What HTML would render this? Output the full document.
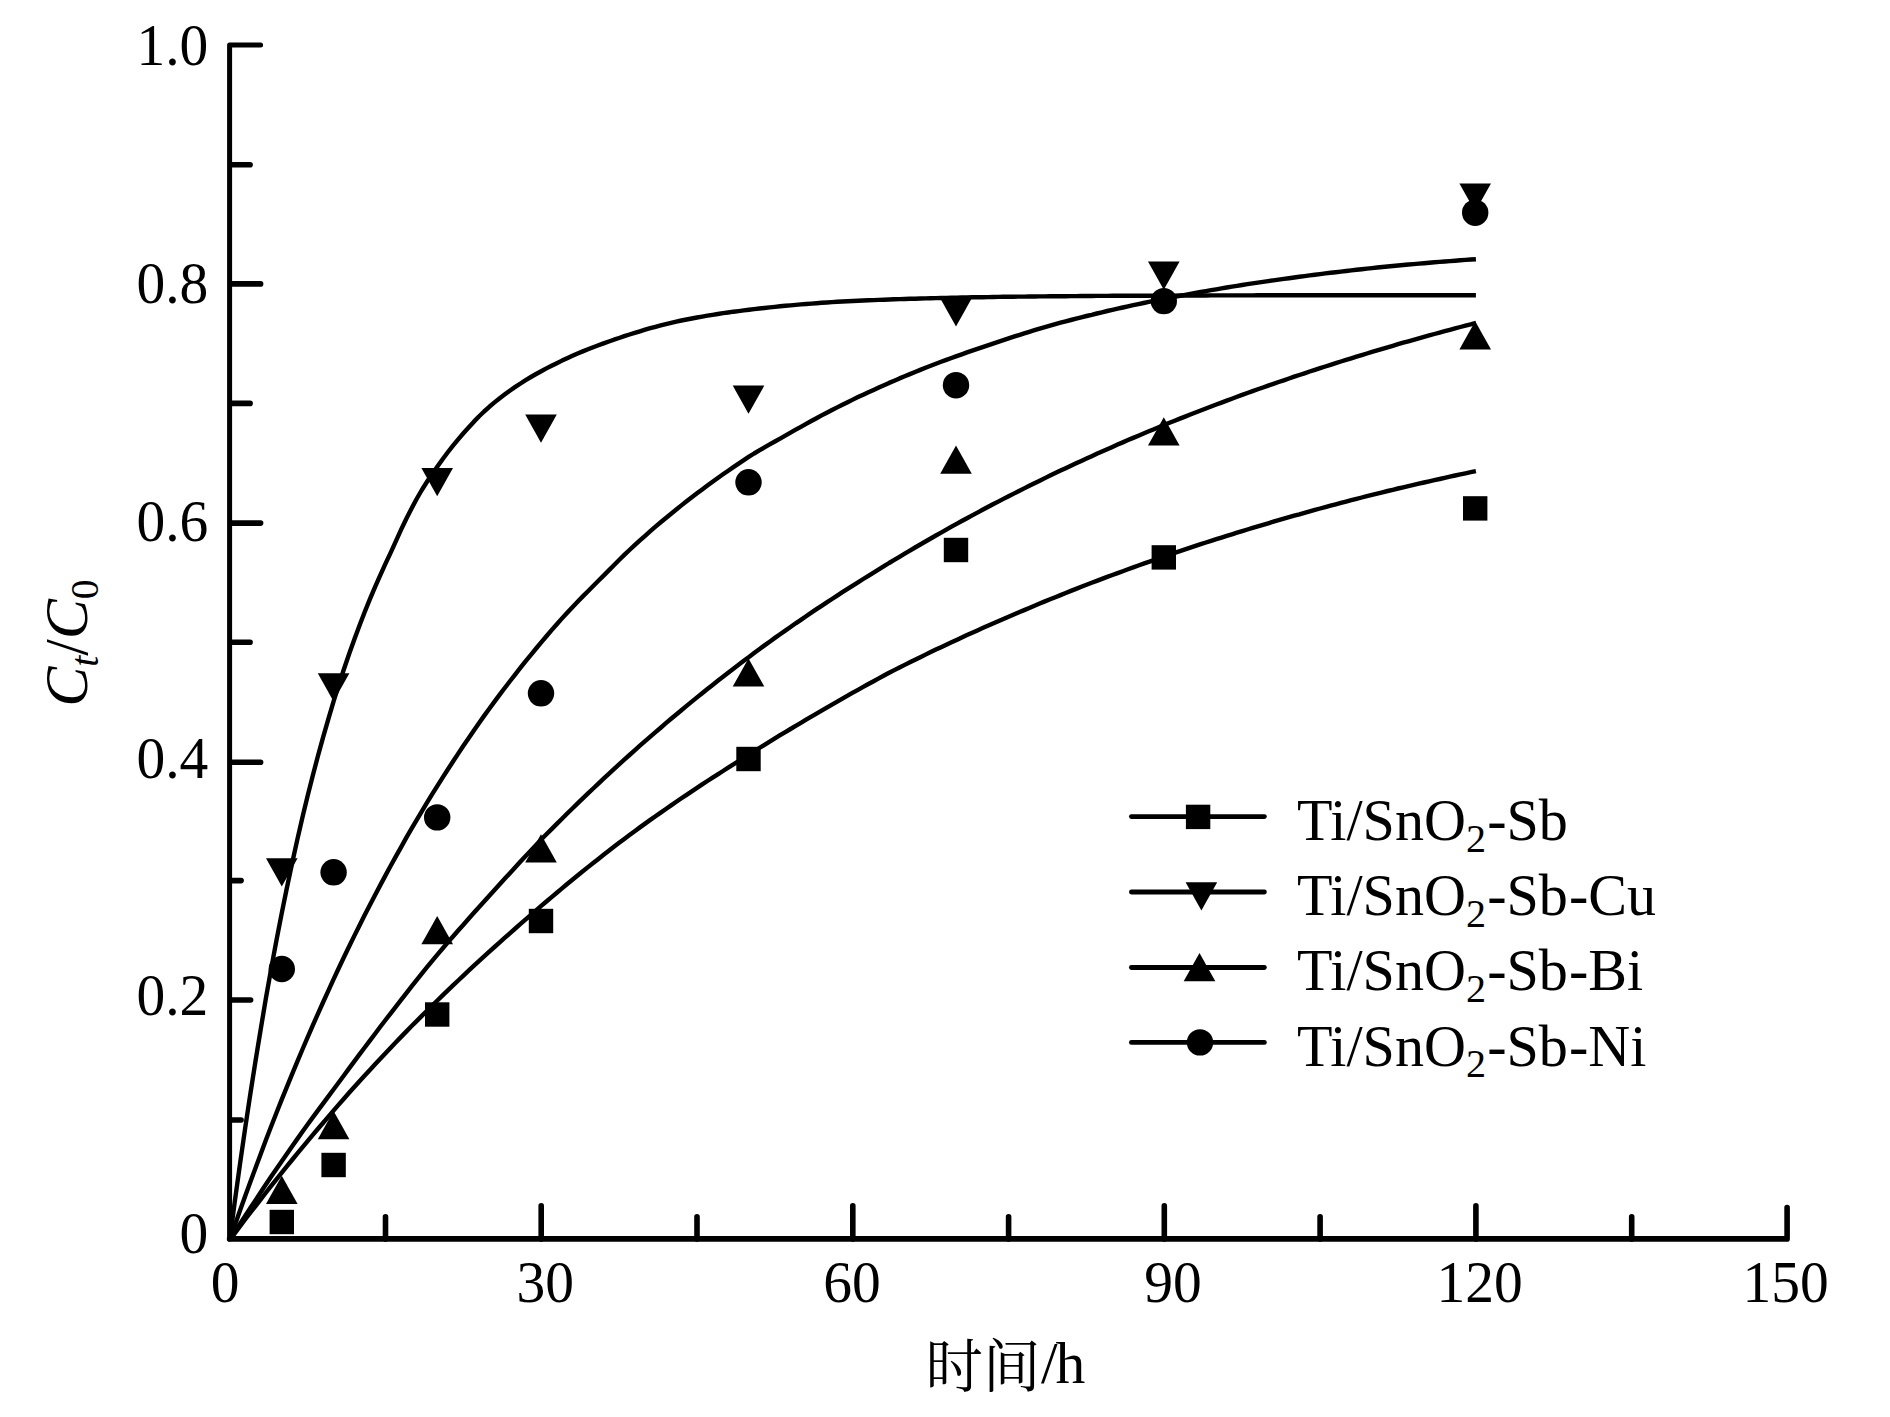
<!DOCTYPE html>
<html lang="zh"><head><meta charset="utf-8"><title>Ct/C0 - 时间/h</title>
<style>html,body{margin:0;padding:0;background:#fff;}svg{display:block;}text{font-family:"Liberation Serif","Noto Serif CJK SC",serif;fill:#000;}</style></head><body>
<svg width="1890" height="1417" viewBox="0 0 1890 1417">
<rect width="1890" height="1417" fill="#fff"/>
<g stroke="#000" fill="none" stroke-linecap="round" stroke-linejoin="round">
<path d="M260.6 45.1H229.6V1238.9" stroke-width="5"/>
<path d="M229.6 1238.9H1787.1V1207.5" stroke-width="5.6"/>
<path d="M230.6 1120.0h10.5 M230.6 1000.0h20 M230.6 880.6h10.5 M230.6 762.2h30 M230.6 642.2h19.5 M230.6 523.1h30 M230.6 403.4h19.5 M230.6 283.9h30 M230.6 164.8h19.5" stroke-width="5.6"/>
<path d="M385.5 1238.9v-22 M541.2 1238.9v-33 M697.0 1238.9v-22 M852.8 1238.9v-33 M1008.6 1238.9v-22 M1164.3 1238.9v-33 M1320.1 1238.9v-22 M1475.9 1238.9v-33 M1631.7 1238.9v-22" stroke-width="5.6"/>
</g>
<g stroke="#000" fill="none" stroke-width="4.4" stroke-linejoin="round">
<path d="M229.7 1240.0 L234.9 1200.8 L240.1 1163.3 L245.3 1127.3 L250.5 1092.8 L255.7 1059.8 L260.9 1028.1 L266.0 997.7 L271.2 968.6 L276.4 940.7 L281.6 913.9 L286.8 888.3 L292.0 863.7 L297.2 840.1 L302.4 817.6 L307.6 796.1 L312.8 775.5 L318.0 755.7 L323.2 736.9 L328.4 718.8 L333.5 701.6 L338.7 685.0 L343.9 669.2 L349.1 654.0 L354.3 639.4 L359.5 625.4 L364.7 612.0 L369.9 599.2 L375.1 586.9 L380.3 575.1 L385.5 563.7 L390.7 552.6 L395.9 541.1 L401.1 529.7 L406.2 519.0 L411.4 508.8 L416.6 499.0 L421.8 490.0 L427.0 481.8 L432.2 474.0 L437.4 466.5 L442.6 459.2 L447.8 452.3 L453.0 445.7 L458.2 439.4 L463.4 433.3 L468.6 427.5 L473.7 421.9 L478.9 416.5 L484.1 411.5 L489.3 406.8 L494.5 402.4 L499.7 398.2 L504.9 394.3 L510.1 390.5 L515.3 386.9 L520.5 383.5 L525.7 380.1 L530.9 377.0 L536.1 374.0 L541.2 371.2 L546.4 368.4 L551.6 365.8 L556.8 363.2 L562.0 360.6 L567.2 358.2 L572.4 355.8 L577.6 353.5 L582.8 351.4 L588.0 349.3 L593.2 347.2 L598.4 345.3 L603.6 343.4 L608.8 341.5 L613.9 339.7 L619.1 338.0 L624.3 336.2 L629.5 334.5 L634.7 332.9 L639.9 331.3 L645.1 329.7 L650.3 328.2 L655.5 326.8 L660.7 325.4 L665.9 324.1 L671.1 322.8 L676.3 321.6 L681.4 320.5 L686.6 319.5 L691.8 318.5 L697.0 317.5 L702.2 316.6 L707.4 315.7 L712.6 314.8 L717.8 314.0 L723.0 313.2 L728.2 312.5 L733.4 311.7 L738.6 311.1 L743.8 310.4 L749.0 309.7 L754.1 309.1 L759.3 308.5 L764.5 308.0 L769.7 307.4 L774.9 306.9 L780.1 306.3 L785.3 305.8 L790.5 305.4 L795.7 304.9 L800.9 304.4 L806.1 304.0 L811.3 303.6 L816.5 303.2 L821.6 302.8 L826.8 302.5 L832.0 302.1 L837.2 301.8 L842.4 301.5 L847.6 301.3 L852.8 301.0 L858.0 300.8 L863.2 300.5 L868.4 300.3 L873.6 300.1 L878.8 299.9 L884.0 299.7 L889.1 299.5 L894.3 299.3 L899.5 299.1 L904.7 299.0 L909.9 298.8 L915.1 298.7 L920.3 298.5 L925.5 298.4 L930.7 298.2 L935.9 298.1 L941.1 298.0 L946.3 297.9 L951.5 297.8 L956.6 297.6 L961.8 297.5 L967.0 297.4 L972.2 297.3 L977.4 297.3 L982.6 297.2 L987.8 297.1 L993.0 297.0 L998.2 296.9 L1003.4 296.8 L1008.6 296.8 L1013.8 296.7 L1019.0 296.6 L1024.2 296.6 L1029.3 296.5 L1034.5 296.5 L1039.7 296.4 L1044.9 296.4 L1050.1 296.3 L1055.3 296.3 L1060.5 296.2 L1065.7 296.2 L1070.9 296.1 L1076.1 296.1 L1081.3 296.0 L1086.5 296.0 L1091.7 296.0 L1096.8 295.9 L1102.0 295.9 L1107.2 295.9 L1112.4 295.8 L1117.6 295.8 L1122.8 295.8 L1128.0 295.7 L1133.2 295.7 L1138.4 295.7 L1143.6 295.7 L1148.8 295.7 L1154.0 295.6 L1159.2 295.6 L1164.3 295.6 L1169.5 295.6 L1174.7 295.6 L1179.9 295.5 L1185.1 295.5 L1190.3 295.5 L1195.5 295.5 L1200.7 295.5 L1205.9 295.5 L1211.1 295.4 L1216.3 295.4 L1221.5 295.4 L1226.7 295.4 L1231.9 295.4 L1237.0 295.4 L1242.2 295.4 L1247.4 295.4 L1252.6 295.4 L1257.8 295.3 L1263.0 295.3 L1268.2 295.3 L1273.4 295.3 L1278.6 295.3 L1283.8 295.3 L1289.0 295.3 L1294.2 295.3 L1299.4 295.3 L1304.5 295.3 L1309.7 295.3 L1314.9 295.3 L1320.1 295.3 L1325.3 295.3 L1330.5 295.2 L1335.7 295.2 L1340.9 295.2 L1346.1 295.2 L1351.3 295.2 L1356.5 295.2 L1361.7 295.2 L1366.9 295.2 L1372.0 295.2 L1377.2 295.2 L1382.4 295.2 L1387.6 295.2 L1392.8 295.2 L1398.0 295.2 L1403.2 295.2 L1408.4 295.2 L1413.6 295.2 L1418.8 295.2 L1424.0 295.2 L1429.2 295.2 L1434.4 295.2 L1439.6 295.2 L1444.7 295.2 L1449.9 295.2 L1455.1 295.2 L1460.3 295.2 L1465.5 295.2 L1470.7 295.2 L1475.9 295.2"/>
<path d="M229.7 1240.0 L234.9 1225.0 L240.1 1210.3 L245.3 1195.8 L250.5 1181.5 L255.7 1167.4 L260.9 1153.5 L266.0 1139.8 L271.2 1126.3 L276.4 1113.0 L281.6 1099.9 L286.8 1087.1 L292.0 1074.4 L297.2 1061.8 L302.4 1049.5 L307.6 1037.4 L312.8 1025.4 L318.0 1013.6 L323.2 1002.0 L328.4 990.6 L333.5 979.3 L338.7 968.2 L343.9 957.3 L349.1 946.5 L354.3 935.9 L359.5 925.4 L364.7 915.1 L369.9 904.9 L375.1 894.9 L380.3 885.1 L385.5 875.4 L390.7 865.8 L395.9 856.4 L401.1 847.1 L406.2 837.9 L411.4 828.9 L416.6 820.1 L421.8 811.3 L427.0 802.7 L432.2 794.2 L437.4 785.8 L442.6 777.6 L447.8 769.5 L453.0 761.5 L458.2 753.6 L463.4 745.8 L468.6 738.2 L473.7 730.7 L478.9 723.2 L484.1 715.9 L489.3 708.7 L494.5 701.6 L499.7 694.6 L504.9 687.7 L510.1 681.0 L515.3 674.3 L520.5 667.7 L525.7 661.2 L530.9 654.8 L536.1 648.5 L541.2 642.3 L546.4 636.2 L551.6 630.1 L556.8 624.2 L562.0 618.4 L567.2 612.7 L572.4 607.2 L577.6 601.7 L582.8 596.4 L588.0 591.2 L593.2 586.0 L598.4 580.8 L603.6 575.6 L608.8 570.4 L613.9 565.2 L619.1 560.0 L624.3 554.9 L629.5 550.0 L634.7 545.1 L639.9 540.4 L645.1 535.8 L650.3 531.2 L655.5 526.7 L660.7 522.3 L665.9 518.0 L671.1 513.7 L676.3 509.5 L681.4 505.4 L686.6 501.3 L691.8 497.3 L697.0 493.3 L702.2 489.4 L707.4 485.5 L712.6 481.7 L717.8 478.0 L723.0 474.3 L728.2 470.7 L733.4 467.1 L738.6 463.6 L743.8 460.1 L749.0 456.7 L754.1 453.5 L759.3 450.4 L764.5 447.4 L769.7 444.4 L774.9 441.5 L780.1 438.6 L785.3 435.7 L790.5 432.7 L795.7 429.7 L800.9 426.8 L806.1 423.9 L811.3 421.0 L816.5 418.2 L821.6 415.4 L826.8 412.7 L832.0 410.0 L837.2 407.4 L842.4 404.8 L847.6 402.2 L852.8 399.6 L858.0 397.1 L863.2 394.7 L868.4 392.3 L873.6 389.9 L878.8 387.5 L884.0 385.2 L889.1 382.9 L894.3 380.7 L899.5 378.4 L904.7 376.3 L909.9 374.1 L915.1 372.0 L920.3 369.9 L925.5 367.8 L930.7 365.8 L935.9 363.8 L941.1 361.8 L946.3 359.9 L951.5 358.0 L956.6 356.1 L961.8 354.3 L967.0 352.4 L972.2 350.6 L977.4 348.9 L982.6 347.1 L987.8 345.4 L993.0 343.6 L998.2 341.9 L1003.4 340.2 L1008.6 338.4 L1013.8 336.7 L1019.0 335.1 L1024.2 333.4 L1029.3 331.8 L1034.5 330.2 L1039.7 328.6 L1044.9 327.1 L1050.1 325.6 L1055.3 324.1 L1060.5 322.7 L1065.7 321.3 L1070.9 320.0 L1076.1 318.6 L1081.3 317.3 L1086.5 316.0 L1091.7 314.8 L1096.8 313.5 L1102.0 312.3 L1107.2 311.0 L1112.4 309.8 L1117.6 308.7 L1122.8 307.5 L1128.0 306.3 L1133.2 305.2 L1138.4 304.1 L1143.6 303.0 L1148.8 301.9 L1154.0 300.9 L1159.2 299.8 L1164.3 298.8 L1169.5 297.8 L1174.7 296.8 L1179.9 295.8 L1185.1 294.8 L1190.3 293.8 L1195.5 292.9 L1200.7 292.0 L1205.9 291.1 L1211.1 290.2 L1216.3 289.3 L1221.5 288.4 L1226.7 287.5 L1231.9 286.7 L1237.0 285.8 L1242.2 285.0 L1247.4 284.2 L1252.6 283.4 L1257.8 282.6 L1263.0 281.9 L1268.2 281.1 L1273.4 280.3 L1278.6 279.6 L1283.8 278.9 L1289.0 278.2 L1294.2 277.5 L1299.4 276.8 L1304.5 276.1 L1309.7 275.4 L1314.9 274.7 L1320.1 274.1 L1325.3 273.4 L1330.5 272.8 L1335.7 272.2 L1340.9 271.6 L1346.1 271.0 L1351.3 270.4 L1356.5 269.8 L1361.7 269.2 L1366.9 268.6 L1372.0 268.1 L1377.2 267.5 L1382.4 267.0 L1387.6 266.5 L1392.8 266.0 L1398.0 265.5 L1403.2 265.0 L1408.4 264.5 L1413.6 264.1 L1418.8 263.6 L1424.0 263.2 L1429.2 262.7 L1434.4 262.3 L1439.6 261.9 L1444.7 261.5 L1449.9 261.1 L1455.1 260.7 L1460.3 260.3 L1465.5 259.9 L1470.7 259.5 L1475.9 259.2"/>
<path d="M229.7 1240.0 L234.9 1231.8 L240.1 1223.7 L245.3 1215.7 L250.5 1207.7 L255.7 1199.9 L260.9 1192.0 L266.0 1184.3 L271.2 1176.6 L276.4 1168.9 L281.6 1161.4 L286.8 1153.9 L292.0 1146.4 L297.2 1139.1 L302.4 1131.7 L307.6 1124.5 L312.8 1117.4 L318.0 1110.4 L323.2 1103.4 L328.4 1096.4 L333.5 1089.5 L338.7 1082.5 L343.9 1075.5 L349.1 1068.4 L354.3 1061.4 L359.5 1054.4 L364.7 1047.5 L369.9 1040.6 L375.1 1033.7 L380.3 1026.8 L385.5 1020.0 L390.7 1013.3 L395.9 1006.6 L401.1 999.9 L406.2 993.3 L411.4 986.7 L416.6 980.2 L421.8 973.6 L427.0 967.2 L432.2 960.8 L437.4 954.6 L442.6 948.5 L447.8 942.4 L453.0 936.5 L458.2 930.5 L463.4 924.7 L468.6 918.8 L473.7 913.0 L478.9 907.3 L484.1 901.6 L489.3 895.8 L494.5 890.1 L499.7 884.3 L504.9 878.6 L510.1 872.9 L515.3 867.2 L520.5 861.5 L525.7 855.9 L530.9 850.4 L536.1 845.0 L541.2 839.6 L546.4 834.3 L551.6 829.1 L556.8 823.9 L562.0 818.7 L567.2 813.5 L572.4 808.5 L577.6 803.4 L582.8 798.4 L588.0 793.4 L593.2 788.5 L598.4 783.6 L603.6 778.7 L608.8 773.9 L613.9 769.1 L619.1 764.3 L624.3 759.6 L629.5 755.0 L634.7 750.3 L639.9 745.7 L645.1 741.1 L650.3 736.6 L655.5 732.1 L660.7 727.7 L665.9 723.2 L671.1 718.8 L676.3 714.5 L681.4 710.2 L686.6 705.9 L691.8 701.6 L697.0 697.4 L702.2 693.2 L707.4 689.0 L712.6 684.9 L717.8 680.8 L723.0 676.8 L728.2 672.7 L733.4 668.7 L738.6 664.8 L743.8 660.8 L749.0 656.9 L754.1 653.1 L759.3 649.2 L764.5 645.4 L769.7 641.7 L774.9 637.9 L780.1 634.2 L785.3 630.6 L790.5 627.0 L795.7 623.3 L800.9 619.8 L806.1 616.2 L811.3 612.7 L816.5 609.2 L821.6 605.8 L826.8 602.4 L832.0 599.0 L837.2 595.6 L842.4 592.2 L847.6 588.9 L852.8 585.6 L858.0 582.3 L863.2 579.0 L868.4 575.8 L873.6 572.6 L878.8 569.4 L884.0 566.2 L889.1 563.0 L894.3 559.9 L899.5 556.8 L904.7 553.7 L909.9 550.6 L915.1 547.5 L920.3 544.5 L925.5 541.5 L930.7 538.5 L935.9 535.5 L941.1 532.6 L946.3 529.6 L951.5 526.7 L956.6 523.9 L961.8 521.0 L967.0 518.2 L972.2 515.4 L977.4 512.6 L982.6 509.8 L987.8 507.0 L993.0 504.3 L998.2 501.6 L1003.4 498.9 L1008.6 496.2 L1013.8 493.6 L1019.0 491.0 L1024.2 488.4 L1029.3 485.8 L1034.5 483.2 L1039.7 480.7 L1044.9 478.1 L1050.1 475.6 L1055.3 473.1 L1060.5 470.6 L1065.7 468.2 L1070.9 465.8 L1076.1 463.3 L1081.3 460.9 L1086.5 458.6 L1091.7 456.2 L1096.8 453.8 L1102.0 451.5 L1107.2 449.2 L1112.4 446.9 L1117.6 444.6 L1122.8 442.4 L1128.0 440.1 L1133.2 437.9 L1138.4 435.7 L1143.6 433.5 L1148.8 431.3 L1154.0 429.2 L1159.2 427.0 L1164.3 424.9 L1169.5 422.8 L1174.7 420.7 L1179.9 418.6 L1185.1 416.6 L1190.3 414.5 L1195.5 412.5 L1200.7 410.5 L1205.9 408.5 L1211.1 406.5 L1216.3 404.5 L1221.5 402.6 L1226.7 400.6 L1231.9 398.7 L1237.0 396.8 L1242.2 394.9 L1247.4 393.0 L1252.6 391.2 L1257.8 389.3 L1263.0 387.5 L1268.2 385.6 L1273.4 383.8 L1278.6 382.0 L1283.8 380.3 L1289.0 378.5 L1294.2 376.7 L1299.4 375.0 L1304.5 373.3 L1309.7 371.5 L1314.9 369.8 L1320.1 368.1 L1325.3 366.5 L1330.5 364.8 L1335.7 363.1 L1340.9 361.5 L1346.1 359.9 L1351.3 358.3 L1356.5 356.7 L1361.7 355.1 L1366.9 353.5 L1372.0 351.9 L1377.2 350.4 L1382.4 348.8 L1387.6 347.3 L1392.8 345.8 L1398.0 344.2 L1403.2 342.7 L1408.4 341.3 L1413.6 339.8 L1418.8 338.3 L1424.0 336.9 L1429.2 335.4 L1434.4 334.0 L1439.6 332.6 L1444.7 331.2 L1449.9 329.8 L1455.1 328.4 L1460.3 327.0 L1465.5 325.6 L1470.7 324.3 L1475.9 322.9"/>
<path d="M229.7 1240.0 L234.9 1233.1 L240.1 1226.2 L245.3 1219.3 L250.5 1212.5 L255.7 1205.8 L260.9 1199.1 L266.0 1192.5 L271.2 1185.9 L276.4 1179.3 L281.6 1172.8 L286.8 1166.4 L292.0 1160.0 L297.2 1153.7 L302.4 1147.4 L307.6 1141.1 L312.8 1134.9 L318.0 1128.8 L323.2 1122.7 L328.4 1116.6 L333.5 1110.6 L338.7 1104.6 L343.9 1098.7 L349.1 1092.8 L354.3 1087.0 L359.5 1081.2 L364.7 1075.5 L369.9 1069.9 L375.1 1064.3 L380.3 1058.7 L385.5 1053.2 L390.7 1047.7 L395.9 1042.3 L401.1 1036.9 L406.2 1031.6 L411.4 1026.3 L416.6 1021.1 L421.8 1015.9 L427.0 1010.7 L432.2 1005.6 L437.4 1000.5 L442.6 995.4 L447.8 990.4 L453.0 985.4 L458.2 980.5 L463.4 975.6 L468.6 970.7 L473.7 965.9 L478.9 961.1 L484.1 956.4 L489.3 951.6 L494.5 947.0 L499.7 942.3 L504.9 937.7 L510.1 933.1 L515.3 928.5 L520.5 923.9 L525.7 919.4 L530.9 914.9 L536.1 910.4 L541.2 905.9 L546.4 901.5 L551.6 897.1 L556.8 892.7 L562.0 888.4 L567.2 884.0 L572.4 879.8 L577.6 875.5 L582.8 871.3 L588.0 867.1 L593.2 863.0 L598.4 858.9 L603.6 854.8 L608.8 850.8 L613.9 846.8 L619.1 842.8 L624.3 838.9 L629.5 835.0 L634.7 831.2 L639.9 827.4 L645.1 823.6 L650.3 819.9 L655.5 816.2 L660.7 812.6 L665.9 809.0 L671.1 805.4 L676.3 801.8 L681.4 798.3 L686.6 794.8 L691.8 791.3 L697.0 787.9 L702.2 784.4 L707.4 781.0 L712.6 777.6 L717.8 774.3 L723.0 771.0 L728.2 767.7 L733.4 764.4 L738.6 761.1 L743.8 757.8 L749.0 754.5 L754.1 751.3 L759.3 748.0 L764.5 744.8 L769.7 741.6 L774.9 738.4 L780.1 735.2 L785.3 732.1 L790.5 729.0 L795.7 725.8 L800.9 722.8 L806.1 719.7 L811.3 716.6 L816.5 713.6 L821.6 710.6 L826.8 707.6 L832.0 704.6 L837.2 701.7 L842.4 698.7 L847.6 695.7 L852.8 692.7 L858.0 689.8 L863.2 686.9 L868.4 684.0 L873.6 681.2 L878.8 678.3 L884.0 675.5 L889.1 672.8 L894.3 670.1 L899.5 667.5 L904.7 664.9 L909.9 662.3 L915.1 659.7 L920.3 657.2 L925.5 654.6 L930.7 652.1 L935.9 649.6 L941.1 647.2 L946.3 644.7 L951.5 642.3 L956.6 639.9 L961.8 637.5 L967.0 635.1 L972.2 632.7 L977.4 630.4 L982.6 628.1 L987.8 625.8 L993.0 623.5 L998.2 621.2 L1003.4 618.9 L1008.6 616.7 L1013.8 614.5 L1019.0 612.3 L1024.2 610.1 L1029.3 607.9 L1034.5 605.7 L1039.7 603.5 L1044.9 601.4 L1050.1 599.3 L1055.3 597.2 L1060.5 595.1 L1065.7 593.0 L1070.9 590.9 L1076.1 588.9 L1081.3 586.8 L1086.5 584.8 L1091.7 582.8 L1096.8 580.9 L1102.0 578.9 L1107.2 576.9 L1112.4 575.0 L1117.6 573.1 L1122.8 571.2 L1128.0 569.3 L1133.2 567.4 L1138.4 565.5 L1143.6 563.7 L1148.8 561.9 L1154.0 560.0 L1159.2 558.2 L1164.3 556.4 L1169.5 554.6 L1174.7 552.9 L1179.9 551.1 L1185.1 549.4 L1190.3 547.7 L1195.5 545.9 L1200.7 544.2 L1205.9 542.5 L1211.1 540.9 L1216.3 539.2 L1221.5 537.6 L1226.7 535.9 L1231.9 534.3 L1237.0 532.7 L1242.2 531.1 L1247.4 529.5 L1252.6 527.9 L1257.8 526.4 L1263.0 524.8 L1268.2 523.3 L1273.4 521.7 L1278.6 520.2 L1283.8 518.7 L1289.0 517.2 L1294.2 515.7 L1299.4 514.3 L1304.5 512.8 L1309.7 511.4 L1314.9 509.9 L1320.1 508.5 L1325.3 507.1 L1330.5 505.7 L1335.7 504.3 L1340.9 502.9 L1346.1 501.6 L1351.3 500.2 L1356.5 498.9 L1361.7 497.5 L1366.9 496.2 L1372.0 494.9 L1377.2 493.6 L1382.4 492.3 L1387.6 491.0 L1392.8 489.8 L1398.0 488.5 L1403.2 487.3 L1408.4 486.1 L1413.6 484.9 L1418.8 483.7 L1424.0 482.5 L1429.2 481.3 L1434.4 480.1 L1439.6 479.0 L1444.7 477.8 L1449.9 476.7 L1455.1 475.5 L1460.3 474.4 L1465.5 473.3 L1470.7 472.2 L1475.9 471.1"/>
</g>
<g fill="#000" stroke="none">
<rect x="269.6" y="1209.8" width="24.4" height="24.4"/>
<path d="M266.0 858.3h31.6l-15.8 28.2z"/>
<path d="M281.8 1175.8l15.8 28.2h-31.6z"/>
<circle cx="281.8" cy="969.0" r="13.2"/>
<rect x="321.4" y="1152.8" width="24.4" height="24.4"/>
<path d="M317.8 673.2h31.6l-15.8 28.2z"/>
<path d="M333.6 1111.0l15.8 28.2h-31.6z"/>
<circle cx="333.6" cy="872.3" r="13.2"/>
<rect x="425.0" y="1002.3" width="24.4" height="24.4"/>
<path d="M421.4 468.0h31.6l-15.8 28.2z"/>
<path d="M437.2 916.0l15.8 28.2h-31.6z"/>
<circle cx="437.2" cy="817.4" r="13.2"/>
<rect x="528.8" y="908.8" width="24.4" height="24.4"/>
<path d="M525.2 414.5h31.6l-15.8 28.2z"/>
<path d="M541.0 834.3l15.8 28.2h-31.6z"/>
<circle cx="541.0" cy="693.3" r="13.2"/>
<rect x="736.3" y="746.8" width="24.4" height="24.4"/>
<path d="M732.7 385.6h31.6l-15.8 28.2z"/>
<path d="M748.5 658.4l15.8 28.2h-31.6z"/>
<circle cx="748.5" cy="482.3" r="13.2"/>
<rect x="943.8" y="537.8" width="24.4" height="24.4"/>
<path d="M940.2 298.2h31.6l-15.8 28.2z"/>
<path d="M956.0 445.6l15.8 28.2h-31.6z"/>
<circle cx="956.0" cy="385.2" r="13.2"/>
<rect x="1151.6" y="545.2" width="24.4" height="24.4"/>
<path d="M1148.0 261.6h31.6l-15.8 28.2z"/>
<path d="M1163.8 417.2l15.8 28.2h-31.6z"/>
<circle cx="1163.8" cy="301.1" r="13.2"/>
<rect x="1463.0" y="496.2" width="24.4" height="24.4"/>
<path d="M1459.4 183.4h31.6l-15.8 28.2z"/>
<path d="M1475.2 321.2l15.8 28.2h-31.6z"/>
<circle cx="1475.2" cy="212.7" r="13.2"/>
</g>
<g stroke="#000" stroke-width="4.8" stroke-linecap="round">
<path d="M1131.4 816.6H1264.4"/>
<path d="M1131.4 892.0H1264.4"/>
<path d="M1131.4 967.5H1264.4"/>
<path d="M1131.4 1042.4H1264.4"/>
</g><g fill="#000">
<rect x="1185.9" y="804.7" width="24.4" height="24.4"/>
<path d="M1185.6 882.2h31.6l-15.8 28.2z"/>
<path d="M1199.5 953.1l15.8 28.2h-31.6z"/>
<circle cx="1200.0" cy="1042.4" r="13.2"/>
</g>
<text transform="translate(1296.9 839.9) scale(0.975 1)" font-size="59.6">Ti/SnO<tspan font-size="41.1" dy="11.8">2</tspan><tspan dy="-11.8" dx="1.2">-Sb</tspan></text>
<text transform="translate(1296.9 915.1) scale(0.975 1)" font-size="59.6">Ti/SnO<tspan font-size="41.1" dy="11.8">2</tspan><tspan dy="-11.8" dx="1.2">-Sb</tspan><tspan dx="1.2">-Cu</tspan></text>
<text transform="translate(1296.9 990.3) scale(0.975 1)" font-size="59.6">Ti/SnO<tspan font-size="41.1" dy="11.8">2</tspan><tspan dy="-11.8" dx="1.2">-Sb</tspan><tspan dx="1.2">-Bi</tspan></text>
<text transform="translate(1296.9 1065.5) scale(0.975 1)" font-size="59.6">Ti/SnO<tspan font-size="41.1" dy="11.8">2</tspan><tspan dy="-11.8" dx="1.2">-Sb</tspan><tspan dx="1.2">-Ni</tspan></text>
<text transform="translate(208.3 65.3) scale(0.965 1)" font-size="59.6" text-anchor="end">1.0</text>
<text transform="translate(208.3 303.2) scale(0.965 1)" font-size="59.6" text-anchor="end">0.8</text>
<text transform="translate(208.3 540.5) scale(0.965 1)" font-size="59.6" text-anchor="end">0.6</text>
<text transform="translate(208.3 778.4) scale(0.965 1)" font-size="59.6" text-anchor="end">0.4</text>
<text transform="translate(208.3 1015.1) scale(0.965 1)" font-size="59.6" text-anchor="end">0.2</text>
<text transform="translate(208.3 1252.9) scale(0.965 1)" font-size="59.6" text-anchor="end">0</text>
<text transform="translate(210.8 1301.6) scale(0.965 1)" font-size="59.6">0</text>
<text transform="translate(516.6 1301.6) scale(0.965 1)" font-size="59.6">30</text>
<text transform="translate(823.3 1301.6) scale(0.965 1)" font-size="59.6">60</text>
<text transform="translate(1144.2 1301.6) scale(0.965 1)" font-size="59.6">90</text>
<text transform="translate(1436.5 1301.6) scale(0.965 1)" font-size="59.6">120</text>
<text transform="translate(1742.4 1301.6) scale(0.965 1)" font-size="59.6">150</text>
<text y="1383" font-size="59.6"><tspan x="925.4" y="1386.6" font-size="57.5">时间</tspan><tspan x="1041" y="1383">/</tspan><tspan x="1055.6">h</tspan></text>
<text transform="translate(86.8 706.5) rotate(-90) scale(0.98 1)" font-size="61"><tspan font-style="italic">C</tspan><tspan font-style="italic" font-size="40.4" dy="10.8">t</tspan><tspan dy="-10.8">/</tspan><tspan font-style="italic">C</tspan><tspan font-size="40.4" dy="10.8">0</tspan></text>
</svg></body></html>
